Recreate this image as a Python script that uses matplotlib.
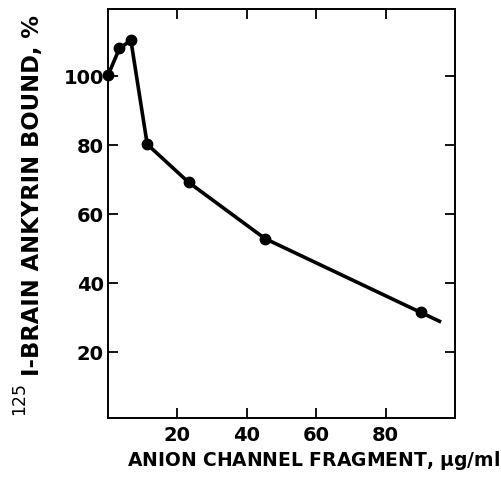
import numpy as np
import matplotlib.pyplot as plt

# anion channel fragment (ug/ml) vs 125I-brain ankyrin bound (%)
frag = np.array([0, 3.3, 6.6, 11.3, 23.2, 45.2, 90.1])
bound = np.array([100.3, 108.1, 110.4, 80.3, 69.3, 53.0, 31.6])

# drawn line runs a bit past the last point
line_x = np.array([0, 3.3, 6.6, 11.3, 23.2, 45.2, 90.1, 96.0])
line_y = np.array([100.3, 108.1, 110.4, 80.3, 69.3, 53.0, 31.6, 28.8])

xticks = [20, 40, 60, 80]
yticks = [20, 40, 60, 80, 100]

fig = plt.figure(figsize=(5.01, 4.83), dpi=100)
ax = fig.add_axes([108/501, 1 - 418/483, (455-108)/501, (418-9)/483])

ax.plot(line_x, line_y, color='black', lw=2.6, solid_capstyle='butt', clip_on=False)
ax.plot(frag, bound, 'o', color='black', ms=7.5, clip_on=False)

ax.set_xlim(0, 100)
ax.set_ylim(1, 119.5)
ax.set_xticks(xticks)
ax.set_yticks(yticks)

for s in ax.spines.values():
    s.set_linewidth(1.4)

ax.tick_params(direction='in', length=7, width=1.3, top=True, right=True,
               labelsize=14)
ax.tick_params(axis='y', pad=3)
ax.tick_params(axis='x', pad=6)
for lab in ax.get_xticklabels() + ax.get_yticklabels():
    lab.set_fontweight('bold')

fig.text(314/501, 1 - 461/483, 'ANION CHANNEL FRAGMENT, $\\mathbf{\\mu}$g/ml',
         ha='center', va='center', fontsize=13.5, fontweight='bold')

# y label: superscript isotope number + bold text
fig.text(19/501, 1 - 415/483, '125', ha='center', va='bottom', rotation=90,
         fontsize=12.5)
fig.text(33/501, 1 - 376/483, 'I-BRAIN ANKYRIN BOUND, %', ha='center',
         va='bottom', rotation=90, fontsize=16.3, fontweight='bold')

fig.savefig('out.png', dpi=100)
